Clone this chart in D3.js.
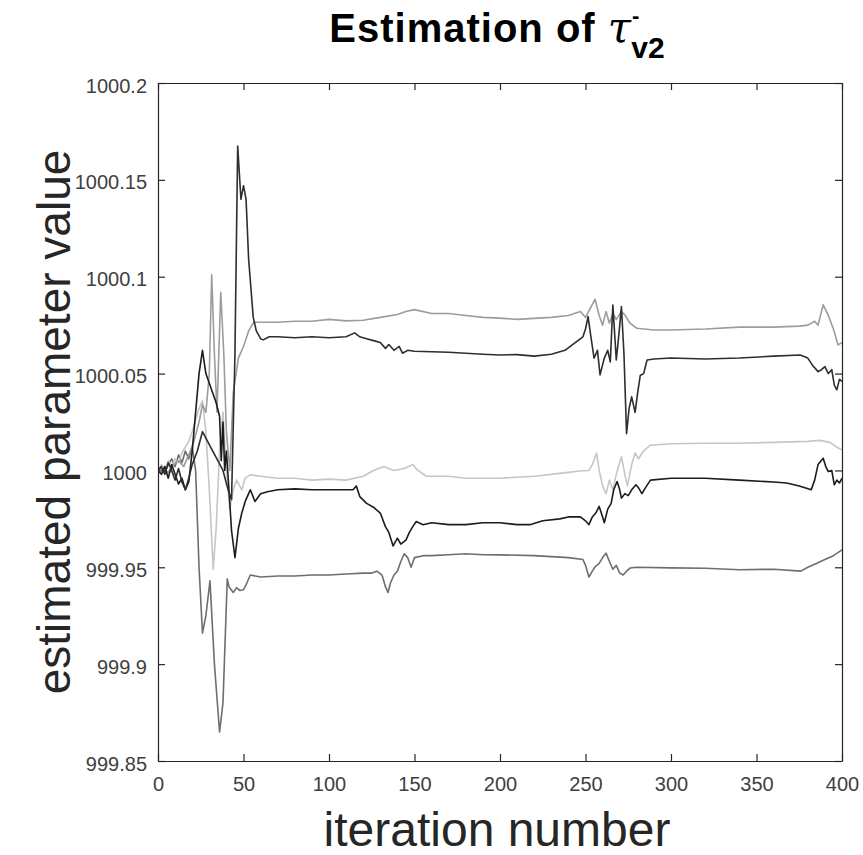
<!DOCTYPE html>
<html lang="en">
<head>
<meta charset="UTF-8">
<title>Estimation of tau v2</title>
<script src="https://cdn.jsdelivr.net/npm/d3@7"></script>
<style>
  body { margin: 0; background: #fff; }
  svg { font-family: "Liberation Sans", Arial, sans-serif; }
</style>
</head>
<body>
<div id="container"></div>
<script>
// tick values / labels
const xTicks = [0, 50, 100, 150, 200, 250, 300, 350, 400]
const yTicks = [999.85, 999.9, 999.95, 1000, 1000.05, 1000.1, 1000.15, 1000.2]
const yTickLabels = ["999.85", "999.9", "999.95", "1000", "1000.05", "1000.1", "1000.15", "1000.2"]

// series, [iteration, value]
// upper light-gray estimate
const seriesA = [[0,1000.0],[3,1000.001],[6,999.999],[9,1000.003],[12,1000.005],[15,1000.002],[18,1000.008],[21,1000.015],[24,1000.025],[26,1000.034],[28,1000.03],[30,1000.05],[31.4,1000.101],[33,1000.06],[34.5,1000.03],[36.7,1000.092],[38.5,1000.06],[40,1000.02],[42,1000.0],[44,1000.04],[47,1000.058],[50,1000.064],[53,1000.072],[56,1000.0765],[60,1000.0765],[70,1000.0765],[80,1000.077],[90,1000.077],[100,1000.078],[110,1000.0772],[120,1000.0775],[130,1000.079],[140,1000.0805],[145,1000.082],[150,1000.083],[160,1000.081],[170,1000.081],[180,1000.080],[190,1000.079],[200,1000.0786],[210,1000.078],[220,1000.0785],[230,1000.079],[240,1000.080],[247,1000.082],[250,1000.079],[253,1000.084],[255.6,1000.0884],[258,1000.080],[260,1000.075],[262,1000.082],[264,1000.076],[266,1000.081],[268,1000.078],[271,1000.082],[273,1000.0803],[276,1000.076],[280,1000.0734],[290,1000.0725],[300,1000.0725],[320,1000.073],[340,1000.074],[360,1000.074],[375,1000.0745],[380,1000.075],[384,1000.077],[386,1000.075],[389,1000.0855],[392,1000.080],[395,1000.073],[397.7,1000.0648],[400,1000.066]]

// upper dark estimate (big spike near 47)
const seriesB = [[0,1000.0],[2,1000.002],[4,999.998],[6,1000.004],[8,1000.0],[10,999.995],[12,1000.001],[14,999.994],[16,999.99],[18,999.996],[20,1000.003],[23,1000.01],[26,1000.02],[29,1000.015],[32,1000.01],[35,1000.005],[38,1000.0],[41,999.99],[43,999.985],[45,1000.06],[46.6,1000.1675],[48.5,1000.14],[50,1000.147],[51.5,1000.14],[53,1000.109],[55.7,1000.079],[57.5,1000.072],[60,1000.068],[61.6,1000.0674],[65,1000.069],[70,1000.069],[80,1000.0685],[90,1000.069],[100,1000.0685],[110,1000.069],[115,1000.071],[118,1000.069],[122,1000.068],[126,1000.067],[130,1000.066],[133,1000.063],[135,1000.065],[138,1000.062],[141,1000.064],[143,1000.0605],[146,1000.062],[150,1000.0615],[160,1000.0613],[170,1000.061],[180,1000.0605],[190,1000.06],[200,1000.0596],[210,1000.0598],[220,1000.059],[230,1000.06],[238,1000.062],[244,1000.066],[248.5,1000.069],[250,1000.073],[251.5,1000.0794],[253,1000.07],[255,1000.058],[257,1000.062],[258.5,1000.0493],[261,1000.058],[263,1000.062],[264.5,1000.056],[266,1000.0854],[268,1000.057],[269.5,1000.07],[271,1000.0846],[272.5,1000.06],[274,1000.019],[275.5,1000.032],[277,1000.038],[279,1000.030],[280.5,1000.04],[282,1000.049],[284,1000.05],[286,1000.057],[290,1000.0575],[300,1000.058],[320,1000.0575],[340,1000.058],[360,1000.059],[375.5,1000.0596],[380,1000.058],[383,1000.054],[386,1000.051],[388,1000.052],[390,1000.0536],[392,1000.05],[394,1000.052],[395.5,1000.044],[397,1000.0416],[398.5,1000.047],[400,1000.046]]

// very light estimate near 1000
const seriesC = [[0,1000.0],[2,1000.003],[4,1000.001],[6,1000.005],[8,1000.002],[10,1000.006],[12,1000.004],[14,1000.009],[16,1000.012],[18,1000.015],[20,1000.02],[22,1000.026],[24,1000.032],[26,1000.036],[28,1000.02],[30,999.99],[32.3,999.949],[34,999.97],[36,1000.01],[38,1000.03],[40,1000.0],[42,999.98],[44,999.99],[46,999.995],[49,999.99],[51,999.996],[54,999.9977],[60,999.997],[70,999.996],[80,999.996],[90,999.995],[100,999.9955],[110,999.995],[120,999.997],[126,1000.0],[132,1000.002],[138,1000.0],[144,1000.001],[149,1000.003],[152,1000.0],[157,999.997],[170,999.997],[180,999.996],[190,999.996],[200,999.996],[220,999.997],[240,999.999],[247,999.9997],[252,1000.0],[254,1000.003],[256.5,1000.009],[258,1000.0],[260,999.992],[262,999.988],[264,999.995],[266,999.99],[268,999.998],[271,1000.007],[273,999.998],[274.5,999.992],[277,1000.003],[279,1000.009],[281,1000.006],[284,1000.01],[287.7,1000.013],[300,1000.0138],[320,1000.014],[340,1000.014],[360,1000.0145],[380,1000.015],[387,1000.0155],[393,1000.0145],[397,1000.012],[400,1000.0106]]

// dark estimate just under 1000
const seriesD = [[0,1000.0],[2,999.998],[4,1000.002],[6,999.996],[8,1000.003],[10,999.998],[12,999.993],[14,999.996],[16,999.99],[18,999.994],[20,1000.01],[22,1000.03],[24,1000.05],[26,1000.062],[28,1000.05],[30,1000.045],[32,1000.04],[34,1000.035],[36,1000.028],[37,1000.005],[38,1000.025],[39,1000.0],[40,1000.01],[41.5,999.99],[43,999.969],[45,999.955],[47,999.97],[49,999.978],[51,999.984],[53,999.988],[54,999.99],[56.7,999.984],[60,999.988],[64,999.989],[70,999.99],[80,999.9905],[90,999.99],[100,999.99],[110,999.99],[114,999.99],[116,999.992],[118,999.9865],[122,999.983],[126,999.981],[130,999.978],[133,999.971],[135,999.968],[137.5,999.961],[140,999.965],[142,999.962],[145,999.964],[147,999.968],[149,999.971],[151,999.9736],[155,999.972],[160,999.973],[170,999.972],[180,999.972],[190,999.973],[200,999.973],[210,999.972],[217.5,999.972],[225,999.974],[235,999.975],[240,999.976],[247,999.976],[250,999.974],[252,999.972],[254,999.976],[256,999.978],[258,999.9814],[260,999.976],[261,999.973],[263,999.98],[265,999.983],[266.5,999.99],[268.5,999.9943],[270,999.99],[271,999.9857],[273,999.988],[275,999.987],[277,999.99],[279.5,999.9926],[281,999.991],[283,999.988],[285,999.991],[288,999.995],[300,999.996],[320,999.996],[340,999.995],[360,999.994],[367.6,999.9935],[375,999.992],[382,999.99],[384,999.995],[386,1000.003],[389,1000.0063],[390.5,1000.002],[392,999.9994],[394,1000.0],[395.5,999.9926],[397,999.995],[398.5,999.9935],[400,999.996]]

// lower mid-gray estimate (deep dip near 36)
const seriesE = [[0,1000.0],[2,1000.001],[4,999.999],[6,1000.003],[8,1000.006],[10,1000.002],[12,1000.008],[14,1000.004],[16,1000.01],[18,1000.006],[20,1000.012],[22,1000.0],[24,999.95],[26,999.916],[28,999.925],[30.4,999.943],[33,999.9],[36,999.865],[38,999.88],[40.5,999.944],[41.5,999.94],[44,999.937],[46,999.9395],[48,999.938],[50,999.9384],[52,999.942],[54,999.946],[60,999.945],[70,999.9455],[80,999.9455],[90,999.946],[100,999.946],[110,999.9465],[120,999.947],[125,999.947],[128,999.948],[131,999.946],[133,999.94],[134.5,999.937],[136,999.942],[138,999.946],[140,999.948],[142,999.953],[144,999.957],[146,999.955],[148,999.95],[150,999.955],[155,999.956],[160,999.956],[170,999.9565],[180,999.957],[190,999.9565],[200,999.9564],[220,999.956],[240,999.955],[248.5,999.954],[250,999.951],[252,999.945],[254,999.948],[255.7,999.9504],[258,999.952],[260,999.955],[262,999.9573],[264,999.953],[266,999.949],[268,999.951],[270,999.947],[272,999.946],[274,999.948],[276,999.9496],[280,999.95],[300,999.9497],[320,999.9495],[340,999.9487],[360,999.949],[376,999.948],[380,999.95],[385,999.952],[390,999.954],[395,999.956],[400,999.959]]

const allSeries = [
    {data: seriesE, color: '#6e6e6e'},
    {data: seriesC, color: '#c6c6c6'},
    {data: seriesA, color: '#9c9c9c'},
    {data: seriesD, color: '#1c1c1c'},
    {data: seriesB, color: '#2e2e2e'}
]

let width = 863
let height = 855
let mLeft = 158, mRight = 842, mTop = 83, mBottom = 761
let axisColor = '#262626'

let svg = d3.select('#container')
    .append('svg')
    .attr('width', width)
    .attr('height', height)

let x = d3.scaleLinear().domain([0, 400]).range([mLeft, mRight])
let y = d3.scaleLinear().domain([999.85, 1000.2]).range([mBottom, mTop])

svg.append('clipPath').attr('id', 'plotclip')
    .append('rect')
    .attr('x', mLeft).attr('y', mTop)
    .attr('width', mRight - mLeft).attr('height', mBottom - mTop)

// lines
let line = d3.line()
    .x(d => x(d[0]))
    .y(d => y(d[1]))

svg.append('g')
    .attr('clip-path', 'url(#plotclip)')
    .selectAll('path')
    .data(allSeries)
    .enter()
    .append('path')
    .attr('d', d => line(d.data))
    .attr('fill', 'none')
    .attr('stroke', d => d.color)
    .attr('stroke-width', 1.6)
    .attr('stroke-linejoin', 'round')

// axes, ticks pointing inward
let gx = svg.append('g')
    .attr('transform', 'translate(0,' + mBottom + ')')
    .call(d3.axisBottom(x).tickValues(xTicks).tickSizeInner(-7).tickSizeOuter(0).tickPadding(16))
let gxTop = svg.append('g')
    .attr('transform', 'translate(0,' + mTop + ')')
    .call(d3.axisTop(x).tickValues(xTicks).tickSizeInner(-7).tickSizeOuter(0).tickFormat(''))
let gy = svg.append('g')
    .attr('transform', 'translate(' + mLeft + ',0)')
    .call(d3.axisLeft(y).tickValues(yTicks).tickSizeInner(-7).tickSizeOuter(0).tickPadding(11)
        .tickFormat((d, i) => yTickLabels[i]))
let gyRight = svg.append('g')
    .attr('transform', 'translate(' + mRight + ',0)')
    .call(d3.axisRight(y).tickValues(yTicks).tickSizeInner(-7).tickSizeOuter(0).tickFormat(''))

;[gx, gxTop, gy, gyRight].forEach(g => {
    g.select('.domain').attr('stroke', axisColor).attr('stroke-width', 1.2)
    g.selectAll('.tick line').attr('stroke', axisColor).attr('stroke-width', 1.2)
    g.selectAll('.tick text')
        .attr('fill', '#404040')
        .style('font-size', '20px')
        .style('font-family', '"Liberation Sans", Arial, sans-serif')
})
gy.selectAll('.tick text').attr('dy', '0.45em')

// title
let title = svg.append('text')
    .attr('x', 497)
    .attr('y', 42)
    .attr('text-anchor', 'middle')
    .style('font-weight', 'bold')
    .style('font-size', '40px')
    .attr('fill', '#000')
title.append('tspan').text('Estimation of ').style('letter-spacing', '1px')
title.append('tspan').text('\u03C4').style('font-style', 'italic').style('font-weight', 'normal')
    .style('font-family', '"DejaVu Serif", serif').style('font-size', '42px')
title.append('tspan').text('-').attr('dy', -19).attr('dx', 1).style('font-size', '22px')
title.append('tspan').text('v2').attr('dy', 35).attr('dx', -8).style('font-size', '30px')

// axis labels
svg.append('text')
    .attr('x', 497)
    .attr('y', 846)
    .attr('text-anchor', 'middle')
    .style('font-size', '48px')
    .attr('fill', '#262626')
    .text('iteration number')

svg.append('text')
    .attr('transform', 'translate(70,' + ((mTop + mBottom) / 2) + ') rotate(-90)')
    .attr('text-anchor', 'middle')
    .style('font-size', '46px')
    .attr('fill', '#262626')
    .text('estimated parameter value')
</script>
</body>
</html>
